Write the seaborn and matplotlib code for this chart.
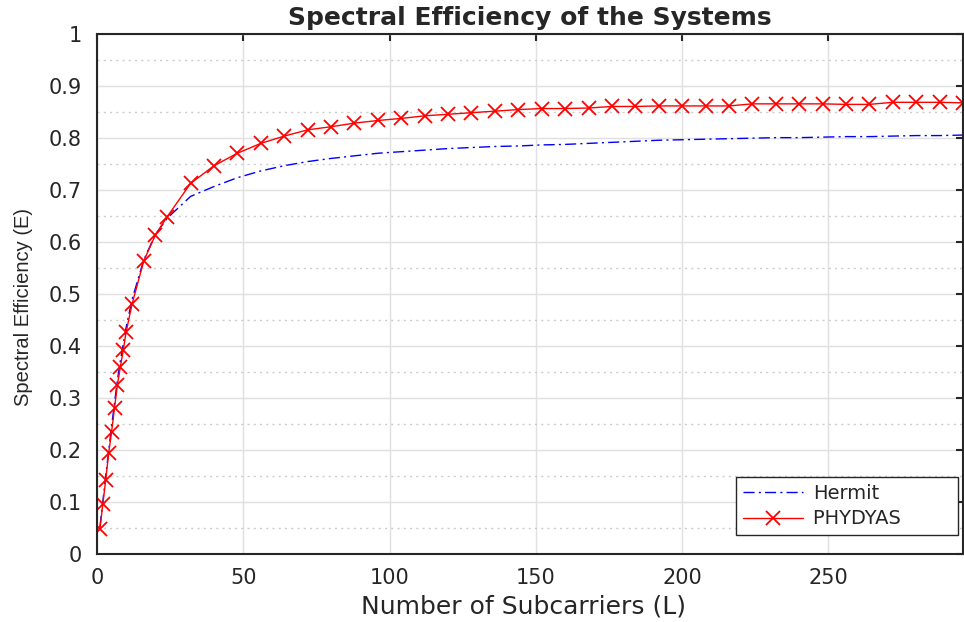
import numpy as np
import pandas as pd
import seaborn as sns
import matplotlib
matplotlib.use("Agg")
import matplotlib.pyplot as plt
from matplotlib.ticker import MultipleLocator, FuncFormatter

# Subcarrier counts (L) and spectral efficiency
L = [1, 2, 3, 4, 5, 6, 7, 8, 9, 10, 12, 16, 20, 24,
     32, 40, 48, 56, 64, 72, 80, 88, 96, 104, 112, 120, 128, 136, 144, 152,
     160, 168, 176, 184, 192, 200, 208, 216, 224, 232, 240, 248, 256, 264,
     272, 280, 288, 296]

hermit = [0.052, 0.101, 0.150, 0.199, 0.246, 0.291, 0.335, 0.372, 0.405, 0.437,
          0.490, 0.566, 0.615, 0.646,
          0.688, 0.707, 0.724, 0.737, 0.747, 0.755, 0.761, 0.766, 0.771, 0.774,
          0.777, 0.780, 0.782, 0.784, 0.785, 0.787, 0.788, 0.790, 0.792, 0.794,
          0.796, 0.797, 0.798, 0.799, 0.800, 0.801, 0.801, 0.802, 0.803, 0.803,
          0.804, 0.805, 0.805, 0.806]

phydyas = [0.048, 0.096, 0.143, 0.194, 0.235, 0.281, 0.326, 0.360, 0.393, 0.428,
           0.481, 0.564, 0.614, 0.649,
           0.713, 0.747, 0.771, 0.790, 0.804, 0.816, 0.822, 0.829, 0.834, 0.838,
           0.843, 0.846, 0.849, 0.852, 0.855, 0.857, 0.857, 0.858, 0.861, 0.861,
           0.862, 0.862, 0.862, 0.862, 0.866, 0.866, 0.866, 0.866, 0.865, 0.865,
           0.869, 0.869, 0.869, 0.868]

systems = ["Hermit", "PHYDYAS"]
x_ticks = [0, 50, 100, 150, 200, 250]

sns.set_style("white")
plt.rcParams['font.family'] = ['DejaVu Sans']

df = pd.concat([
    pd.DataFrame({"L": L, "E": hermit, "system": "Hermit"}),
    pd.DataFrame({"L": L, "E": phydyas, "system": "PHYDYAS"}),
])

fig = plt.figure(figsize=(9.64, 6.22), dpi=100)
ax = fig.add_axes([0.1006, 0.1093, 0.8984, 0.8357])

# seaborn paints marker edges white by default, so give the x markers red edges
sns.lineplot(data=df, x="L", y="E", hue="system", style="system",
             hue_order=systems, style_order=systems,
             palette={"Hermit": "blue", "PHYDYAS": "red"},
             markers={"Hermit": "", "PHYDYAS": "x"},
             dashes={"Hermit": (8, 3, 1.5, 3), "PHYDYAS": ""},
             linewidth=1.0, markersize=10, markeredgewidth=1.3,
             markeredgecolor="red", legend=False, ax=ax)

ax.set_xlim(0, 296)
ax.set_ylim(0, 1)
ax.set_xticks(x_ticks)
ax.yaxis.set_major_locator(MultipleLocator(0.1))
ax.yaxis.set_minor_locator(MultipleLocator(0.05))
ax.yaxis.set_major_formatter(FuncFormatter(lambda v, p: "%g" % round(v, 2)))

ax.grid(which="major", color="#e0e0e0", linewidth=1.0)
ax.grid(which="minor", axis="y", color="#cccccc", linestyle=(0, (1.5, 3)), linewidth=1.0)
ax.set_axisbelow(True)

ax.tick_params(which="major", direction="in", length=5, width=1.5, colors="#262626",
               top=True, right=True, labelsize=15)
ax.tick_params(axis="x", pad=10)
ax.tick_params(axis="y", pad=11)
ax.tick_params(which="minor", length=0)
for s in ax.spines.values():
    s.set_color("#262626")
    s.set_linewidth(1.5)

ax.set_title("Spectral Efficiency of the Systems", fontsize=18, fontweight="bold", pad=6.5)
ax.set_xlabel("Number of Subcarriers (L)", fontsize=18, color="#262626", va="top")
ax.xaxis.set_label_coords(0.493, -0.077)
ax.set_ylabel("Spectral Efficiency (E)", fontsize=14.5, color="#262626",
              family="Liberation Sans")
ax.yaxis.set_label_coords(-0.074, 0.475)

leg = ax.legend(handles=ax.lines[:2], labels=["Hermit", "PHYDYAS        "],
                loc="lower right", bbox_to_anchor=(0.994, 0.036), borderaxespad=0,
                fontsize=14, frameon=True, fancybox=False,
                edgecolor="#262626", framealpha=1, handlelength=3.1,
                handletextpad=0.5, labelspacing=0.35, borderpad=0.35)
leg.get_frame().set_linewidth(1.0)

fig.savefig("out.png", dpi=100)
